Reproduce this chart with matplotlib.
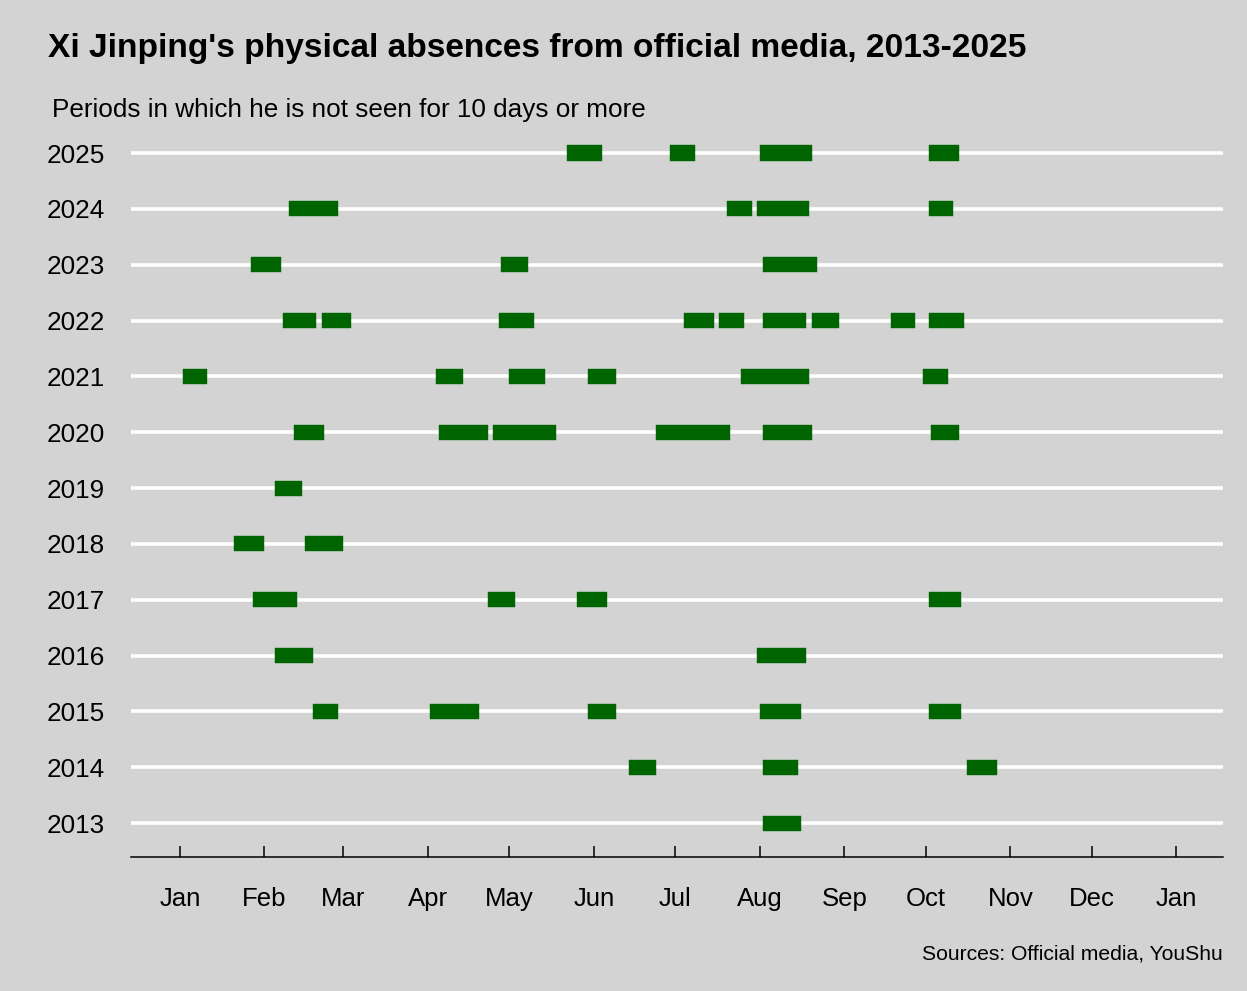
import matplotlib
matplotlib.use("Agg")
import matplotlib.pyplot as plt
import pandas as pd

plt.rcParams['font.family'] = ['Liberation Sans', 'DejaVu Sans']

# ---- data -------------------------------------------------------------
years = list(range(2013, 2026))
year_labels = [str(y) for y in years]

absence_year = [
    2025, 2025, 2025, 2025,
    2024, 2024, 2024, 2024,
    2023, 2023, 2023,
    2022, 2022, 2022, 2022, 2022, 2022, 2022, 2022, 2022,
    2021, 2021, 2021, 2021, 2021, 2021,
    2020, 2020, 2020, 2020, 2020, 2020,
    2019,
    2018, 2018,
    2017, 2017, 2017, 2017,
    2016, 2016,
    2015, 2015, 2015, 2015, 2015,
    2014, 2014, 2014,
    2013,
]
absence_start = [
    "05-22", "06-29", "08-01", "10-02",
    "02-10", "07-20", "07-31", "10-02",
    "01-27", "04-28", "08-02",
    "02-08", "02-22", "04-27", "07-04", "07-17", "08-02", "08-20", "09-18", "10-02",
    "01-02", "04-04", "05-01", "05-30", "07-25", "09-30",
    "02-12", "04-05", "04-25", "06-24", "08-02", "10-03",
    "02-05",
    "01-21", "02-16",
    "01-28", "04-23", "05-26", "10-02",
    "02-05", "07-31",
    "02-19", "04-02", "05-30", "08-01", "10-02",
    "06-14", "08-02", "10-16",
    "08-02",
]
absence_end = [
    "06-04", "07-08", "08-20", "10-13",
    "02-28", "07-29", "08-19", "10-11",
    "02-07", "05-08", "08-22",
    "02-20", "03-04", "05-10", "07-15", "07-26", "08-18", "08-30", "09-27", "10-15",
    "01-11", "04-14", "05-14", "06-09", "08-19", "10-09",
    "02-23", "04-23", "05-18", "07-21", "08-20", "10-13",
    "02-15",
    "02-01", "03-01",
    "02-13", "05-03", "06-06", "10-14",
    "02-19", "08-18",
    "02-28", "04-20", "06-09", "08-16", "10-14",
    "06-24", "08-15", "10-27",
    "08-16",
]
month_labels = ["Jan", "Feb", "Mar", "Apr", "May", "Jun", "Jul",
                "Aug", "Sep", "Oct", "Nov", "Dec", "Jan"]

# ---- conversion to a common (leap) calendar year ----------------------
REF = "2024-"
base = pd.Timestamp("2024-01-01")
def day_of(s):
    return (pd.Timestamp(REF + s) - base).days

starts = [day_of(s) for s in absence_start]
ends = [day_of(e) for e in absence_end]
widths = [e - s for s, e in zip(starts, ends)]
month_ticks = [(d - base).days for d in pd.date_range("2024-01-01", "2025-01-01", freq="MS")]

# ---- figure -------------------------------------------------------------
BG = "#d3d3d3"
fig = plt.figure(figsize=(12.47, 9.91), dpi=100, facecolor=BG)
W, H = 1247, 991
ax = fig.add_axes([130.7 / W, 1 - 856.7 / H, (1222.7 - 130.7) / W, (856.7 - 119.5) / H])
ax.set_facecolor(BG)

ax.barh(absence_year, widths, left=starts, height=0.27, color="#006400",
        edgecolor="#006400", linewidth=0.3, zorder=3)

ax.set_xlim(-18.1, 383.0)
ax.set_ylim(2012.4, 2025.6)

ax.set_yticks(years)
ax.set_yticklabels(year_labels)
ax.set_xticks(month_ticks)
ax.set_xticklabels(month_labels)

ax.yaxis.grid(True, color="white", linewidth=2.6, zorder=0)
ax.xaxis.grid(False)
ax.set_axisbelow(True)

for side in ["top", "right", "left"]:
    ax.spines[side].set_visible(False)
ax.spines["bottom"].set_color("black")
ax.spines["bottom"].set_linewidth(1.1)

ax.tick_params(axis="y", length=0, pad=18.5, labelsize=18.8, colors="black")
ax.tick_params(axis="x", direction="in", length=8, width=1.1, pad=22,
               labelsize=18.5, colors="black")

fig.text(47.8 / W, 1 - 56.7 / H,
         "Xi Jinping's physical absences from official media, 2013-2025",
         fontsize=24.1, fontweight="bold", ha="left", va="baseline")
fig.text(51.7 / W, 1 - 116.7 / H,
         "Periods in which he is not seen for 10 days or more",
         fontsize=18.85, ha="left", va="baseline")
fig.text(1222.7 / W, 1 - 959 / H, "Sources: Official media, YouShu",
         fontsize=15.2, ha="right", va="baseline")

fig.savefig("out.png", dpi=100, facecolor=BG)
